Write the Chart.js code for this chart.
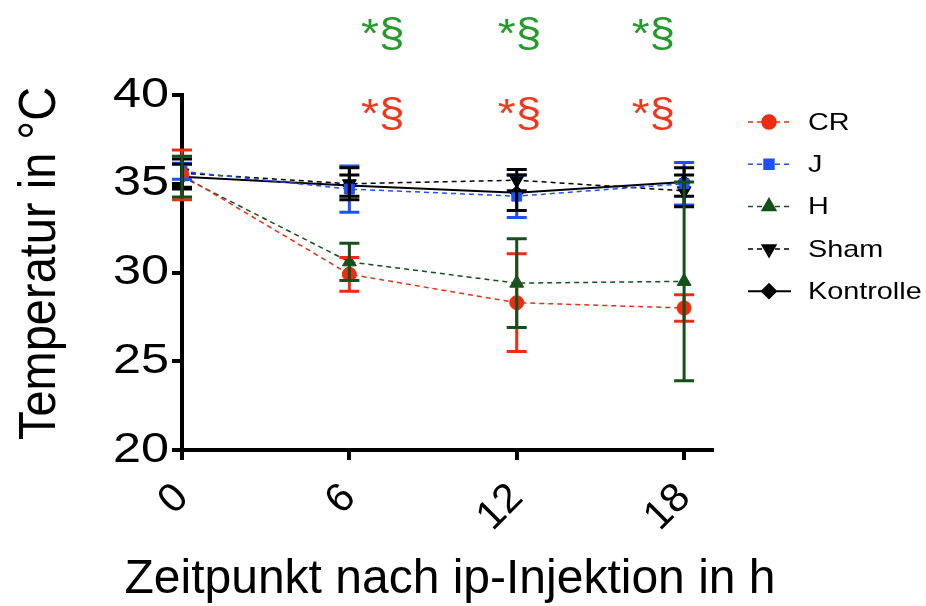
<!DOCTYPE html>
<html lang="de">
<head>
  <meta charset="UTF-8">
  <title>Temperatur nach ip-Injektion</title>
  <script src="https://cdn.jsdelivr.net/npm/chart.js"></script>
  <style>
    body {
      margin: 0;
      padding: 0;
      background: white;
    }
    .wrap {
      width: 926px;
      height: 606px;
      position: relative;
    }
  </style>
</head>
<body>
  <div class="wrap">
    <canvas id="myChart"></canvas>
  </div>

  <script>
    // Zeitpunkte (h)
    const timepoints = [0, 6, 12, 18];
    const xTicks = [0, 6, 12, 18];
    const yTicks = [20, 25, 30, 35, 40];

    // Mittelwerte
    const crMean = [35.5, 29.9, 28.3, 28.0];
    const jMean = [35.7, 34.7, 34.3, 35.0];
    const hMean = [35.4, 30.6, 29.4, 29.5];
    const shamMean = [35.6, 35.0, 35.2, 34.6];
    const kontrolleMean = [35.4, 34.9, 34.5, 35.1];

    // Fehlerbalken (+/-)
    const crErr = [1.4, 0.95, 2.75, 0.75];
    const jErr = [0.45, 1.3, 1.2, 1.2];
    const hErr = [1.15, 1.05, 2.5, 5.6];
    const shamErr = [0.8, 0.9, 0.6, 0.9];
    const kontrolleErr = [0.7, 0.6, 1.0, 0.8];

    // Signifikanz-Markierungen
    const sigX = [7.2, 12.1, 16.9];
    const sigLabel = '*§';
    const sigGreenY = 43.3;
    const sigRedY = 38.8;

    const yTitle = 'Temperatur in °C';
    const xTitle = 'Zeitpunkt nach ip-Injektion in h';

    const font = "'Liberation Sans', Arial, sans-serif";

    function mkData(means) {
      return timepoints.map((t, i) => ({ x: t, y: means[i] }));
    }

    const series = [
      { label: 'CR', data: crMean, err: crErr, color: '#ee2c12', style: 'circle', rot: 0, dash: [5, 4], r: 7 },
      { label: 'J', data: jMean, err: jErr, color: '#1f4fff', style: 'rect', rot: 0, dash: [5, 4], r: 7 },
      { label: 'H', data: hMean, err: hErr, color: '#13501a', style: 'triangle', rot: 0, dash: [5, 4], r: 8 },
      { label: 'Sham', data: shamMean, err: shamErr, color: '#000000', style: 'triangle', rot: 180, dash: [5, 4], r: 8 },
      { label: 'Kontrolle', data: kontrolleMean, err: kontrolleErr, color: '#000000', style: 'rectRot', rot: 0, dash: [], r: 7 }
    ];

    // Text leicht in die Breite gezogen, wie im Original
    function wideText(c, txt, x, y, size, sx, align, color) {
      c.save();
      c.translate(x, y);
      c.scale(sx, 1);
      c.font = size + 'px ' + font;
      c.fillStyle = color || '#000';
      c.textAlign = align;
      c.textBaseline = 'middle';
      c.fillText(txt, 0, 0);
      c.restore();
    }

    const errorBars = {
      id: 'errorBars',
      afterDatasetsDraw(chart) {
        const c = chart.ctx;
        const xs = chart.scales.x, ys = chart.scales.y;
        const order = [0, 1, 3, 4, 2];
        order.forEach(k => {
          const s = series[k];
          c.save();
          c.strokeStyle = s.color;
          c.lineWidth = 3;
          s.data.forEach((v, i) => {
            const px = xs.getPixelForValue(timepoints[i]);
            const top = ys.getPixelForValue(v + s.err[i]);
            const bot = ys.getPixelForValue(v - s.err[i]);
            c.beginPath();
            c.moveTo(px, top); c.lineTo(px, bot);
            c.moveTo(px - 10, top); c.lineTo(px + 10, top);
            c.moveTo(px - 10, bot); c.lineTo(px + 10, bot);
            c.stroke();
          });
          c.restore();
        });
      },
      afterDraw(chart) {
        const c = chart.ctx;
        const xs = chart.scales.x, ys = chart.scales.y;
        const area = chart.chartArea;

        // y-Achsenbeschriftung
        yTicks.forEach(v => {
          wideText(c, String(v), area.left - 13, ys.getPixelForValue(v), 42, 1.2, 'right');
        });

        // Achsentitel
        c.save();
        c.translate(40, (area.top + area.bottom) / 2 - 9);
        c.rotate(-Math.PI / 2);
        c.scale(1, 1.12);
        c.font = '47px ' + font;
        c.fillStyle = '#000';
        c.textAlign = 'center';
        c.textBaseline = 'middle';
        c.fillText(yTitle, 0, 0);
        c.restore();

        c.save();
        c.font = '48px ' + font;
        c.fillStyle = '#000';
        c.textAlign = 'center';
        c.textBaseline = 'alphabetic';
        c.fillText(xTitle, 450, 593);
        c.restore();

        // Signifikanz
        sigX.forEach(x => {
          const px = xs.getPixelForValue(x);
          wideText(c, sigLabel, px, ys.getPixelForValue(sigGreenY), 40, 1.15, 'center', '#239a2a');
          wideText(c, sigLabel, px, ys.getPixelForValue(sigRedY), 40, 1.15, 'center', '#f2361c');
        });

        // Legende mit Linie + Symbol
        series.forEach((s, i) => {
          const y = 122 + i * 42.3;
          c.save();
          c.strokeStyle = s.color;
          c.lineWidth = s.dash.length ? 1.5 : 2;
          c.setLineDash(s.dash);
          c.beginPath();
          c.moveTo(748, y); c.lineTo(791, y);
          c.stroke();
          c.setLineDash([]);
          Chart.helpers.drawPoint(c, {
            pointStyle: s.style, radius: s.r, rotation: s.rot, borderWidth: 1
          }, 769, y);
          c.fillStyle = s.color;
          c.fill();
          c.restore();
          wideText(c, s.label, 808, y + 1, 24, 1.2, 'left');
        });
      }
    };

    const ctx = document.getElementById('myChart').getContext('2d');

    const chart = new Chart(ctx, {
      type: 'line',
      data: {
        datasets: series.map(s => ({
          label: s.label,
          data: mkData(s.data),
          borderColor: s.color,
          backgroundColor: s.color,
          borderWidth: s.dash.length ? 1.5 : 2,
          borderDash: s.dash,
          pointStyle: s.style,
          pointRotation: s.rot,
          pointRadius: s.r,
          pointBorderWidth: 1,
          fill: false,
          tension: 0
        }))
      },
      options: {
        responsive: true,
        maintainAspectRatio: false,
        animation: false,
        layout: {
          padding: { top: 95, right: 214, left: 0, bottom: 0 }
        },
        plugins: {
          legend: { display: false },
          tooltip: { enabled: false }
        },
        scales: {
          x: {
            type: 'linear',
            min: 0,
            max: 19,
            afterBuildTicks: axis => { axis.ticks = xTicks.map(v => ({ value: v })); },
            afterFit: axis => { axis.height = 156; },
            border: { color: '#000', width: 4 },
            grid: { display: true, drawOnChartArea: false, drawTicks: true, tickLength: 10, lineWidth: 4, color: '#000' },
            ticks: {
              color: '#000',
              font: { family: font, size: 41 },
              minRotation: 45,
              maxRotation: 45,
              padding: 14
            }
          },
          y: {
            min: 20,
            max: 40,
            afterBuildTicks: axis => { axis.ticks = yTicks.map(v => ({ value: v })); },
            afterFit: axis => { axis.width = 182; },
            border: { color: '#000', width: 4 },
            grid: { display: true, drawOnChartArea: false, drawTicks: true, tickLength: 10, lineWidth: 4, color: '#000' },
            ticks: {
              display: false
            }
          }
        }
      },
      plugins: [errorBars]
    });
  </script>
</body>
</html>
